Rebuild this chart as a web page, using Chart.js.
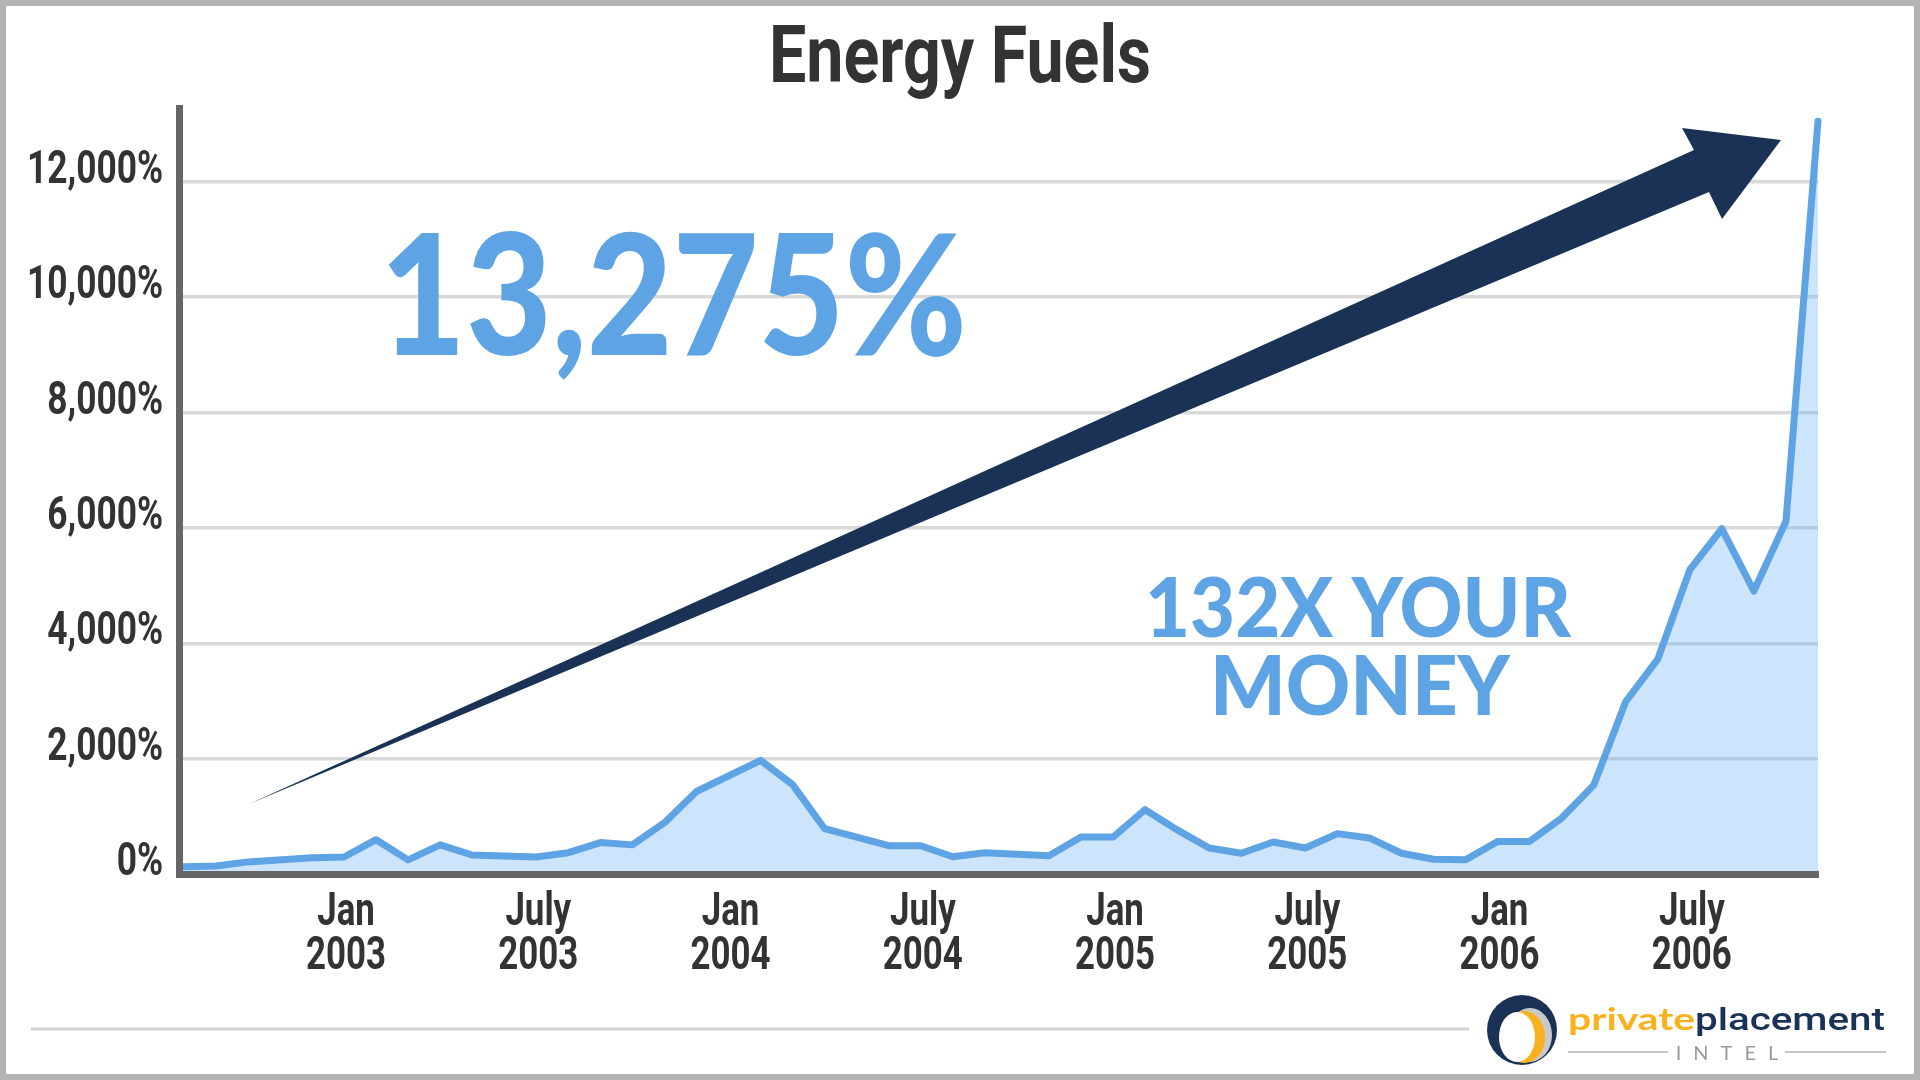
<!DOCTYPE html>
<html lang="en">
<head>
<meta charset="UTF-8">
<title>Energy Fuels</title>
<script src="https://cdn.jsdelivr.net/npm/chart.js"></script>
<style>
  html, body { margin: 0; padding: 0; background: #fff; }
  canvas { display: block; }
</style>
</head>
<body>
<canvas id="fuelsChart" width="1920" height="1080"></canvas>
<script>
// monthly readings (gaps where no point was plotted)
const months = [
  '2002-08', '2002-09', '2002-10', '2002-12',
  '2003-01', '2003-02', '2003-03', '2003-04', '2003-05', '2003-07', '2003-08',
  '2003-09', '2003-10', '2003-11', '2003-12',
  '2004-02', '2004-03', '2004-04', '2004-06', '2004-07', '2004-08', '2004-09',
  '2004-11', '2004-12',
  '2005-01', '2005-02', '2005-03', '2005-04', '2005-05', '2005-06', '2005-07',
  '2005-08', '2005-09', '2005-10', '2005-11', '2005-12',
  '2006-01', '2006-02', '2006-03', '2006-04', '2006-05', '2006-06', '2006-07',
  '2006-08', '2006-09', '2006-10', '2006-11'
];
const returnPct = [
  125, 140, 210, 280,
  295, 595, 245, 505, 330, 295, 370,
  545, 505, 890, 1430,
  1970, 1550, 785, 490, 490, 300, 370,
  315, 640,
  640, 1115, 765, 450, 360, 555, 450,
  700, 625, 360, 255, 245,
  565, 565, 970, 1540, 2990, 3725, 5275,
  5985, 4905, 6115, 13050
];
const yTicks = [0, 2000, 4000, 6000, 8000, 10000, 12000];
const xTickMonths = ['2003-01', '2003-07', '2004-01', '2004-07', '2005-01', '2005-07', '2006-01', '2006-07'];
const xTickLabels = [
  ['Jan', '2003'], ['July', '2003'], ['Jan', '2004'], ['July', '2004'],
  ['Jan', '2005'], ['July', '2005'], ['Jan', '2006'], ['July', '2006']
];

function monthIndex(s) {
  const [y, m] = s.split('-').map(Number);
  return (y - 2003) * 12 + (m - 1);
}

// draw text squeezed horizontally (no condensed fonts installed)
function squeezed(ctx, text, x, y, font, sx, align, color) {
  ctx.save();
  ctx.font = font;
  ctx.fillStyle = color;
  ctx.textAlign = align;
  ctx.textBaseline = 'alphabetic';
  ctx.translate(x, y);
  ctx.scale(sx, 1);
  ctx.fillText(text, 0, 0);
  ctx.restore();
}
function widthOf(ctx, text, font) {
  ctx.save();
  ctx.font = font;
  const w = ctx.measureText(text).width;
  ctx.restore();
  return w;
}
function fitted(ctx, text, x, y, font, width, align, color) {
  squeezed(ctx, text, x, y, font, width / widthOf(ctx, text, font), align, color);
}

const labelFont = '700 46px Roboto';
const bigFont = '900 167px Lato';
const subFont = '900 81px Lato';

const decor = {
  id: 'decor',
  beforeDraw(chart) {
    const ctx = chart.ctx;
    ctx.save();
    ctx.fillStyle = '#ffffff';
    ctx.fillRect(0, 0, chart.width, chart.height);
    ctx.restore();
  },
  afterDraw(chart) {
    const ctx = chart.ctx;
    const xs = chart.scales.x, ys = chart.scales.y;

    // title
    fitted(ctx, 'Energy Fuels', 960, 82, '700 80px Roboto', 382, 'center', '#333333');

    // y tick labels
    const ySx = 136 / widthOf(ctx, '12,000%', labelFont);
    ys.ticks.forEach(t => {
      const py = ys.getPixelForValue(t.value);
      squeezed(ctx, t.value.toLocaleString('en-US') + '%', 163, py + 1, labelFont, ySx, 'right', '#333333');
    });

    // x tick labels
    const xSx = 80 / widthOf(ctx, '2003', labelFont);
    xTickMonths.forEach((m, i) => {
      const px = xs.getPixelForValue(monthIndex(m));
      squeezed(ctx, xTickLabels[i][0], px + 2, 925, labelFont, xSx, 'center', '#333333');
      squeezed(ctx, xTickLabels[i][1], px + 2, 969, labelFont, xSx, 'center', '#333333');
    });

    // arrow
    ctx.save();
    ctx.fillStyle = '#1a3256';
    ctx.beginPath();
    ctx.moveTo(249, 804);
    ctx.lineTo(1694, 150);
    ctx.lineTo(1682, 128);
    ctx.lineTo(1781, 140);
    ctx.lineTo(1722, 219);
    ctx.lineTo(1709, 192);
    ctx.closePath();
    ctx.fill();
    ctx.restore();

    // call-outs
    fitted(ctx, '13,275%', 380, 355, bigFont, 587, 'left', '#5ea3e4');
    fitted(ctx, '132X YOUR', 1358, 637, subFont, 426, 'center', '#5ea3e4');
    fitted(ctx, 'MONEY', 1360, 715, subFont, 300, 'center', '#5ea3e4');

    // footer rule
    ctx.save();
    ctx.strokeStyle = '#d4d4d4';
    ctx.lineWidth = 3;
    ctx.beginPath();
    ctx.moveTo(31, 1029);
    ctx.lineTo(1469, 1029);
    ctx.stroke();
    ctx.restore();

    // logo mark
    ctx.save();
    ctx.fillStyle = '#1a3256';
    ctx.beginPath();
    ctx.arc(1522, 1030, 35, 0, Math.PI * 2);
    ctx.fill();
    ctx.beginPath();
    ctx.arc(1522, 1030, 34, 0, Math.PI * 2);
    ctx.clip();
    [['#c9c9c9', 1530, 1035, 22, 27], ['#f9b21d', 1524, 1037, 21, 26], ['#ffffff', 1517, 1037, 18, 25]].forEach(e => {
      ctx.fillStyle = e[0];
      ctx.beginPath();
      ctx.ellipse(e[1], e[2], e[3], e[4], 0, 0, Math.PI * 2);
      ctx.fill();
    });
    ctx.restore();

    // logo words
    fitted(ctx, 'private', 1568, 1030, '700 31px Lato', 127, 'left', '#f9b21d');
    fitted(ctx, 'placement', 1695, 1030, '500 31px Roboto', 190, 'left', '#1a3256');
    ctx.save();
    ctx.strokeStyle = '#b5b5b5';
    ctx.lineWidth = 1.5;
    ctx.beginPath();
    ctx.moveTo(1568, 1052); ctx.lineTo(1668, 1052);
    ctx.moveTo(1785, 1052); ctx.lineTo(1886, 1052);
    ctx.stroke();
    ctx.font = '400 20px Lato';
    ctx.fillStyle = '#9a9a9a';
    ctx.textAlign = 'center';
    ctx.textBaseline = 'alphabetic';
    ctx.letterSpacing = '12px';
    ctx.fillText('INTEL', 1733, 1060);
    ctx.restore();

    // outer frame
    ctx.save();
    ctx.strokeStyle = '#b3b3b3';
    ctx.lineWidth = 6;
    ctx.strokeRect(3, 3, chart.width - 6, chart.height - 6);
    ctx.restore();
  }
};

new Chart(document.getElementById('fuelsChart'), {
  type: 'line',
  data: {
    datasets: [{
      data: months.map((m, i) => ({ x: monthIndex(m), y: returnPct[i] })),
      borderColor: '#5ea3e4',
      backgroundColor: 'rgba(95,170,245,0.32)',
      borderWidth: 7,
      fill: 'origin',
      pointRadius: 0,
      tension: 0,
      borderJoinStyle: 'round',
      borderCapStyle: 'round',
      clip: 10
    }]
  },
  options: {
    responsive: false,
    devicePixelRatio: 1,
    animation: false,
    layout: { padding: { left: 179, top: 108, right: 102, bottom: 206 } },
    plugins: {
      legend: { display: false },
      tooltip: { enabled: false },
      title: { display: false }
    },
    scales: {
      x: {
        type: 'linear',
        min: -5.15,
        max: 46,
        afterBuildTicks: s => { s.ticks = xTickMonths.map(m => ({ value: monthIndex(m) })); },
        ticks: { display: false },
        grid: { display: false, drawTicks: false },
        border: { color: '#666666', width: 7, z: 1 }
      },
      y: {
        min: 0,
        max: 13280,
        afterBuildTicks: s => { s.ticks = yTicks.map(v => ({ value: v })); },
        ticks: { display: false },
        grid: { color: '#d9d9d9', lineWidth: 3.5, drawTicks: false },
        border: { color: '#666666', width: 7, z: 1 }
      }
    }
  },
  plugins: [decor]
});
</script>
</body>
</html>
